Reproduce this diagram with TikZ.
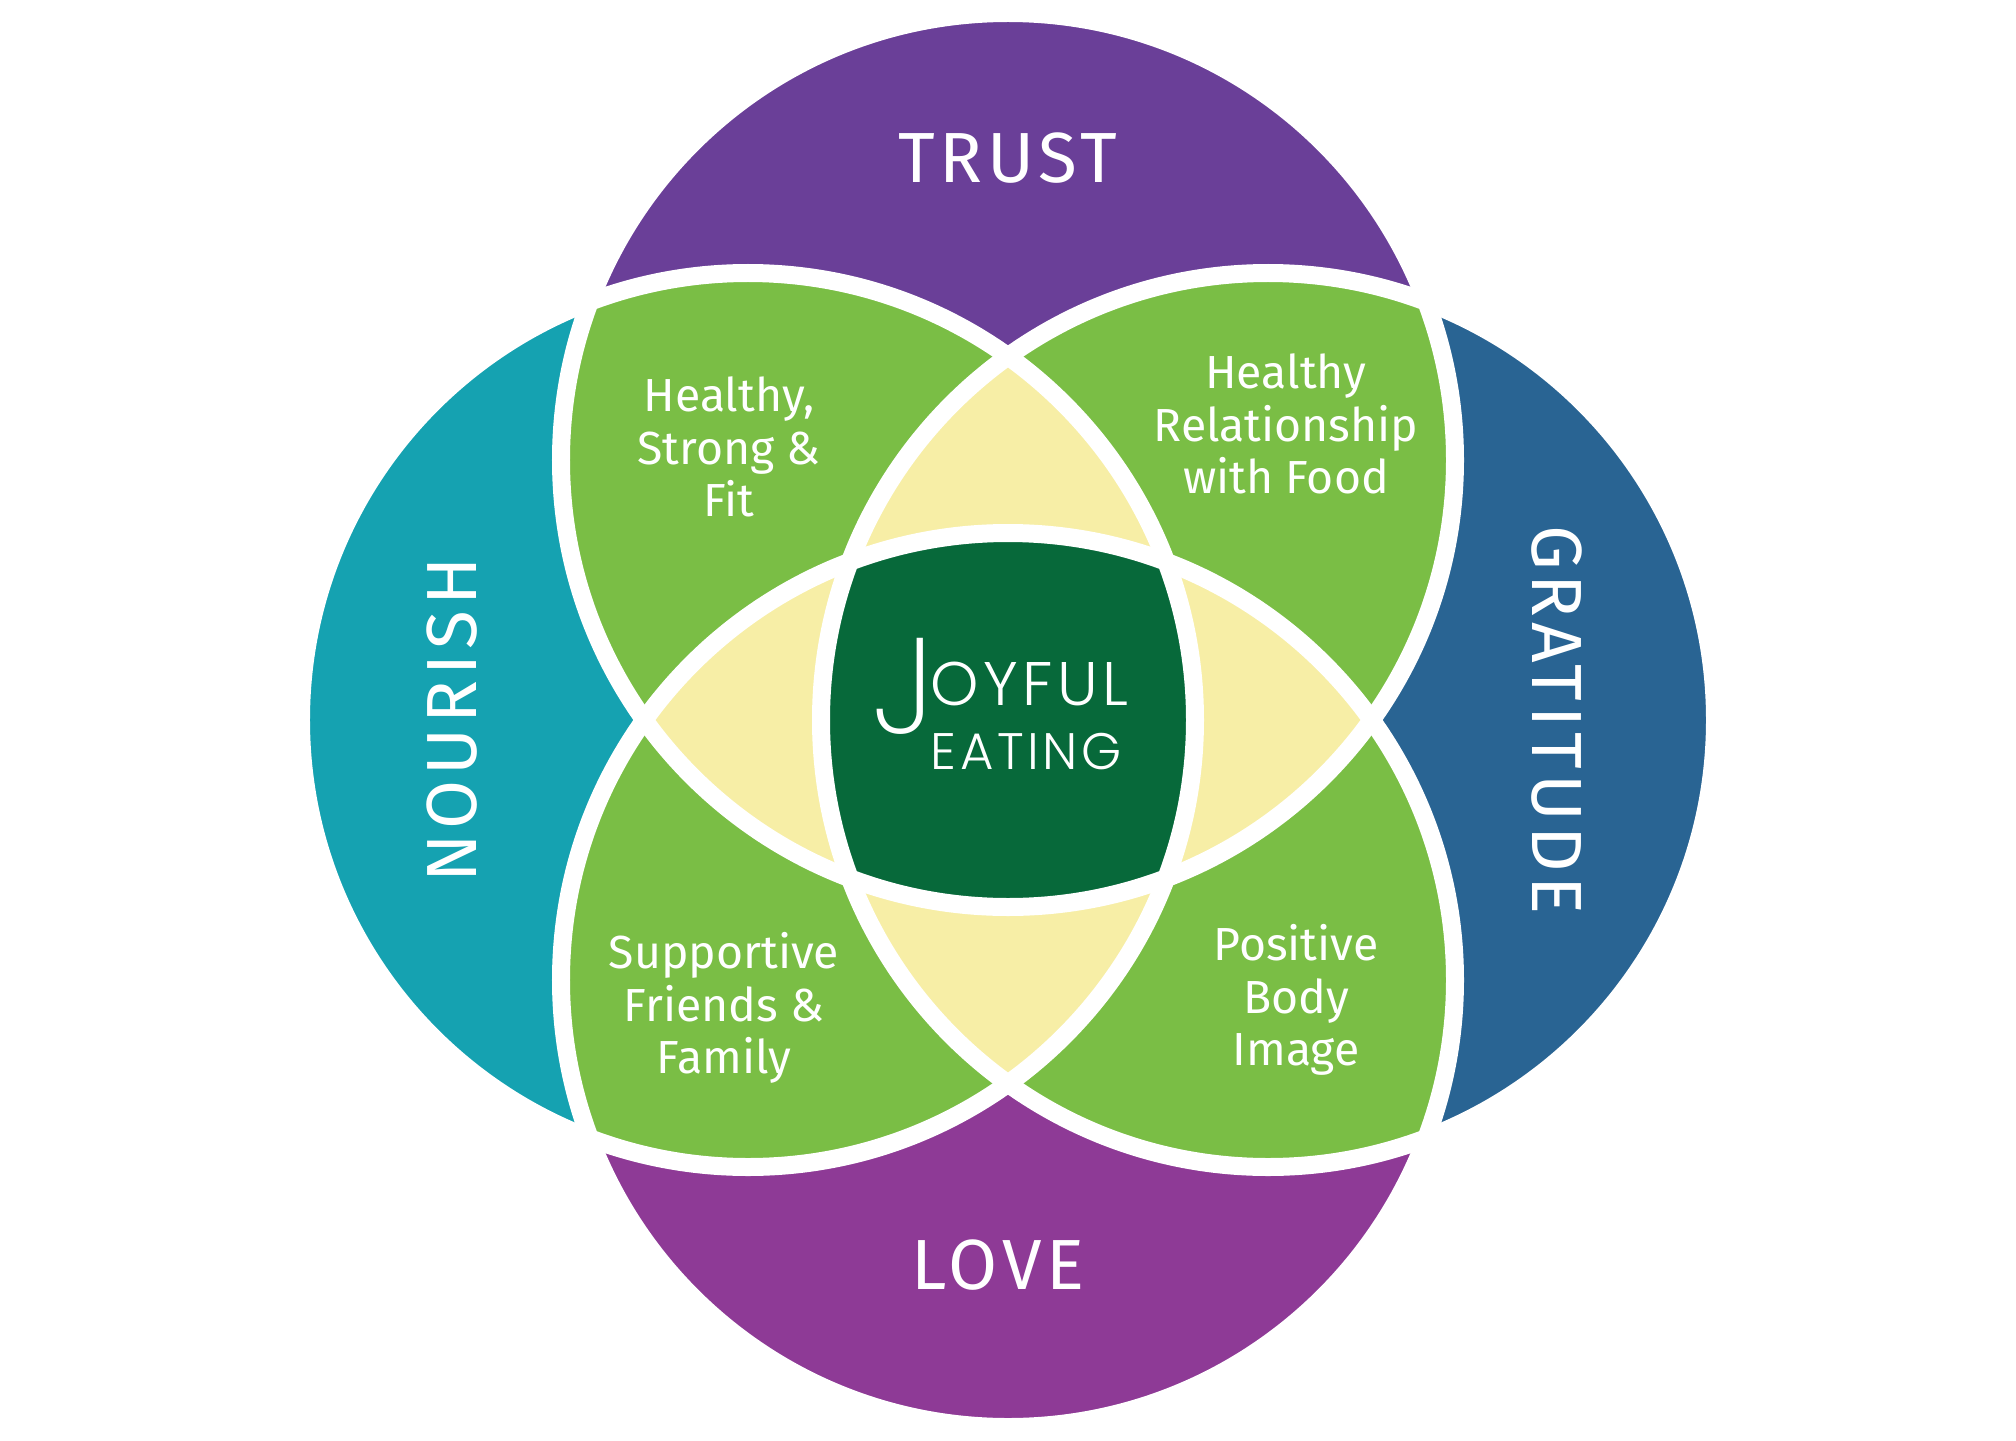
\documentclass[tikz,border=0pt]{standalone}
\usepackage{fontspec}
\usepackage{xcolor}
\usepackage{tikz}
\usetikzlibrary{positioning}
\setmainfont{Fira Sans}
\newfontfamily\headfont{Fira Sans}[LetterSpace=7]
\newfontfamily\labelfont{Fira Sans}
\newfontfamily\logofont{Poppins Light}[LetterSpace=7]
\newfontfamily\jfont{Poppins ExtraLight}
\definecolor{trustc}{HTML}{6A3F98}
\definecolor{lovec}{HTML}{8E3A96}
\definecolor{nourishc}{HTML}{15A2B1}
\definecolor{gratc}{HTML}{296493}
\definecolor{pairc}{HTML}{7ABE45}
\definecolor{triplec}{HTML}{F7EEA6}
\definecolor{corec}{HTML}{07693A}
\newcommand{\vrad}{4.47}
\tikzset{
  vring/.style={draw=white, line width=0.18cm},
  vhead/.style={text=white, font=\headfont\fontsize{20.2}{24}\selectfont, inner sep=0pt},
  vlabel/.style={text=white, align=center, font=\labelfont\fontsize{13.2}{15}\selectfont, inner sep=0pt},
  vlogo/.style={text=white, inner sep=0pt}
}

\begin{document}
\begin{tikzpicture}[x=1cm,y=1cm]
\useasboundingbox (-10.08,-7.2) rectangle (10.08,7.2);
\coordinate (t) at (0,2.60);
\coordinate (b) at (0,-2.60);
\coordinate (l) at (-2.60,0);
\coordinate (r) at (2.60,0);
% single circles
\fill[trustc] (t) circle (\vrad);
\fill[lovec] (b) circle (\vrad);
\fill[nourishc] (l) circle (\vrad);
\fill[gratc] (r) circle (\vrad);
% two circles
\foreach \p/\q in {t/l, t/r, b/l, b/r}{
  \begin{scope}
    \clip (\p) circle (\vrad);
    \fill[pairc] (\q) circle (\vrad);
  \end{scope}
}
% three circles
\foreach \p/\q/\s in {t/l/r, b/l/r, l/t/b, r/t/b}{
  \begin{scope}
    \clip (\p) circle (\vrad);
    \clip (\q) circle (\vrad);
    \fill[triplec] (\s) circle (\vrad);
  \end{scope}
}
% all four
\begin{scope}
  \clip (t) circle (\vrad);
  \clip (b) circle (\vrad);
  \clip (l) circle (\vrad);
  \fill[corec] (r) circle (\vrad);
\end{scope}
\foreach \p in {t,l,b,r}
  \draw[vring] (\p) circle (\vrad);
% texts
\node[vhead] (trust) at (0,5.62) {TRUST};
\node[vhead] (love) at (-0.1,-5.45) {LOVE};
\node[vhead, rotate=90] (nourish) at (-5.56,0) {NOURISH};
\node[vhead, rotate=-90] (gratitude) at (5.49,0) {GRATITUDE};
\node[vlabel] (strong) at (-2.79,2.73) {Healthy,\\Strong \&\\Fit};
\node[vlabel] (food) at (2.78,2.96) {Healthy\\Relationship\\with Food};
\node[vlabel] (friends) at (-2.84,-2.88) {Supportive\\Friends \&\\Family};
\node[vlabel] (body) at (2.88,-2.80) {Positive\\Body\\Image};
\node[vlogo, font=\logofont\fontsize{17.5}{20}\selectfont, anchor=base west] (oyful) at (-0.78,0.15) {OYFUL};
\node[vlogo, font=\logofont\fontsize{14.6}{18}\selectfont, anchor=base west] (eating) at (-0.78,-0.49) {EATING};
\node[vlogo, font=\jfont\fontsize{38.6}{40}\selectfont, anchor=base east] (bigj) at (-0.72,-0.13) {J};
\end{tikzpicture}
\end{document}
